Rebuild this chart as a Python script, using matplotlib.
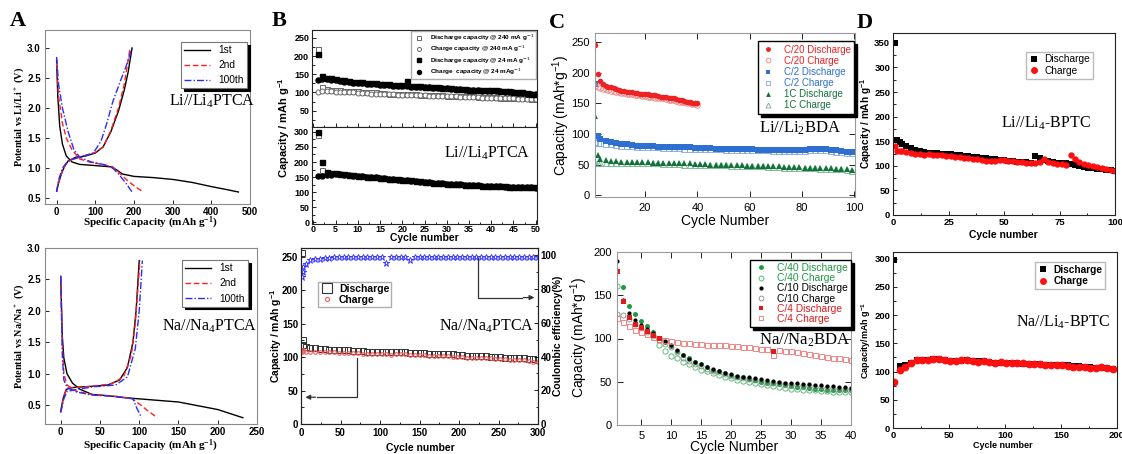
import matplotlib
matplotlib.use("Agg")
import matplotlib.pyplot as plt
import numpy as np
from matplotlib.lines import Line2D
from matplotlib.ticker import MultipleLocator

SANS = "Liberation Sans"
SERIF = "Liberation Serif"
plt.rcParams["font.family"] = [SANS, "DejaVu Sans"]

# ---- A: galvanostatic profiles (capacity mAh/g, potential V) ----
li_d1_x = [0, 3, 8, 15, 25, 40, 60, 100, 140, 155, 170, 200, 250, 300, 350, 400, 440, 470]
li_d1_y = [2.8, 2.2, 1.7, 1.4, 1.2, 1.1, 1.06, 1.04, 1.02, 0.97, 0.9, 0.86, 0.84, 0.81, 0.76, 0.69, 0.64, 0.6]
li_d2_x = [0, 5, 15, 25, 40, 60, 90, 120, 145, 165, 185, 205, 222]
li_d2_y = [2.75, 2.2, 1.75, 1.5, 1.3, 1.15, 1.09, 1.06, 1.02, 0.9, 0.78, 0.68, 0.61]
li_d100_x = [0, 5, 15, 30, 45, 60, 90, 120, 145, 160, 180, 195]
li_d100_y = [2.85, 2.4, 2.0, 1.6, 1.3, 1.18, 1.1, 1.06, 1.0, 0.9, 0.74, 0.6]
li_c1_x = [0, 5, 12, 20, 30, 50, 75, 100, 120, 140, 160, 175, 185, 195]
li_c1_y = [0.62, 0.75, 0.9, 1.02, 1.12, 1.18, 1.2, 1.25, 1.35, 1.6, 1.95, 2.3, 2.6, 3.0]
li_c2_x = [0, 5, 15, 25, 40, 70, 100, 120, 140, 160, 175, 190]
li_c2_y = [0.6, 0.75, 0.95, 1.08, 1.15, 1.2, 1.26, 1.35, 1.62, 2.0, 2.4, 3.0]
li_c100_x = [0, 5, 15, 30, 60, 95, 115, 130, 145, 165, 180, 195]
li_c100_y = [0.6, 0.8, 1.0, 1.12, 1.18, 1.25, 1.45, 1.75, 2.1, 2.45, 2.7, 3.0]

na_d1_x = [0, 2, 4, 8, 15, 25, 40, 60, 80, 100, 150, 200, 232]
na_d1_y = [2.55, 1.6, 1.25, 1.0, 0.85, 0.75, 0.67, 0.65, 0.62, 0.6, 0.55, 0.43, 0.3]
na_d2_x = [0, 2, 4, 8, 20, 40, 70, 90, 100, 110, 123]
na_d2_y = [2.55, 1.5, 1.0, 0.82, 0.72, 0.67, 0.64, 0.61, 0.52, 0.42, 0.3]
na_d100_x = [0, 2, 4, 8, 20, 40, 70, 92, 97, 103]
na_d100_y = [2.55, 1.3, 0.9, 0.78, 0.71, 0.66, 0.64, 0.6, 0.45, 0.3]
na_c1_x = [0, 3, 7, 15, 40, 60, 75, 85, 92, 96, 100]
na_c1_y = [0.4, 0.6, 0.75, 0.78, 0.8, 0.82, 0.9, 1.1, 1.5, 2.0, 2.8]
na_c2_x = [0, 4, 8, 40, 65, 80, 90, 95, 101]
na_c2_y = [0.4, 0.65, 0.77, 0.8, 0.84, 0.95, 1.3, 1.8, 2.8]
na_c100_x = [0, 4, 8, 40, 70, 85, 95, 100, 104]
na_c100_y = [0.38, 0.6, 0.72, 0.79, 0.82, 0.95, 1.4, 2.0, 2.8]

# ---- B top: Li//Li4PTCA cycling, cycles 1-50 ----
b_cyc = np.arange(1, 51)
b_dis240 = [220, 115, 110, 108, 107, 106, 105, 104, 103, 103, 102, 101, 100, 100, 99, 98, 97, 97, 96, 96,
            95, 95, 95, 94, 94, 93, 93, 92, 92, 91, 91, 91, 90, 90, 89, 89, 88, 88, 88, 87,
            87, 86, 86, 85, 85, 85, 84, 84, 83, 83]
b_chg240 = [100, 103, 104, 103, 102, 101, 101, 100, 100, 99, 98, 98, 97, 97, 96, 96, 95, 95, 94, 94,
            93, 93, 93, 92, 92, 91, 91, 90, 90, 90, 89, 89, 88, 88, 88, 87, 87, 86, 86, 86,
            85, 85, 84, 84, 84, 83, 83, 82, 82, 82]
b_dis24 = [205, 145, 141, 139, 137, 135, 133, 131, 130, 129, 128, 127, 126, 125, 124, 123, 122, 121, 121, 120,
           132, 119, 118, 117, 116, 115, 114, 114, 113, 112, 111, 110, 110, 109, 108, 107, 107, 106, 106, 108,
           107, 105, 104, 103, 102, 101, 100, 98, 97, 95]
b_chg24 = [133, 138, 137, 135, 133, 131, 129, 128, 127, 126, 125, 124, 123, 122, 121, 120, 120, 119, 118, 118,
           117, 116, 116, 115, 114, 114, 113, 112, 112, 111, 110, 109, 109, 108, 107, 107, 106, 105, 105, 104,
           104, 103, 102, 101, 100, 99, 98, 97, 96, 95]
b_lo_dis = [298, 200, 168, 165, 163, 161, 160, 158, 157, 155, 154, 152, 151, 149, 148, 147, 145, 144, 143, 141,
            140, 139, 137, 136, 134, 133, 132, 131, 130, 129, 128, 127, 126, 125, 124, 124, 123, 122, 122, 121,
            121, 120, 120, 119, 119, 118, 118, 117, 117, 116]
b_lo_open_cyc = [1, 2]
b_lo_open = [288, 174]
b_lo_chg = [155, 155, 156, 158, 160, 159, 158, 157, 155, 154, 153, 151, 150, 149, 147, 146, 145, 143, 142, 141,
            139, 138, 137, 135, 134, 133, 132, 131, 130, 129, 128, 127, 126, 125, 124, 123, 123, 122, 121, 121,
            120, 120, 119, 119, 118, 118, 117, 117, 116, 115]

# ---- B bottom: Na//Na4PTCA, 300 cycles ----
bn_cyc = np.r_[1, 2, 3, np.arange(6, 301, 6)]
bn_dis = [256, 125, 118,
          115, 114, 113, 112, 112, 111, 111, 110, 110, 110,
          109, 109, 109, 108, 108, 108, 108, 108, 107, 107,
          107, 107, 106, 106, 106, 106, 105, 105, 105, 104,
          104, 104, 103, 103, 102, 102, 102, 101, 101, 100,
          100, 100, 99, 99, 98, 98, 98, 97, 97, 96]
bn_chg = [108, 110, 109,
          108, 108, 108, 107, 107, 107, 107, 106, 106, 106,
          106, 106, 105, 105, 105, 105, 105, 104, 103, 104,
          104, 104, 103, 103, 103, 103, 102, 102, 101, 101,
          101, 100, 100, 100, 99, 99, 99, 98, 98, 98,
          97, 97, 97, 96, 96, 95, 95, 94, 93, 92]
bn_ce = [87, 90, 93,
         95, 97, 98, 98, 98.5, 98.5, 99, 99, 99, 99,
         99, 99, 99, 99, 99, 99, 99, 95.4, 99, 99,
         99, 99, 97.4, 99, 99, 99, 99, 99, 99, 99,
         99, 99, 99, 99, 99, 99, 99, 99, 99, 99,
         99, 99, 99, 99, 99, 99, 99, 99, 99, 99]

# ---- C top: Li//Li2BDA ----
c20_cyc = np.arange(1, 41)
c20_dis = [245, 198, 186, 181, 179, 177, 176, 175, 174, 172, 171, 170, 169, 169, 168, 167, 167, 166, 166, 165,
           165, 164, 163, 163, 162, 161, 161, 160, 159, 158, 158, 157, 156, 155, 154, 153, 152, 151, 151, 150]
c20_chg = [178, 176, 175, 174, 173, 172, 171, 170, 169, 168, 167, 167, 166, 165, 165, 164, 163, 163, 162, 162,
           161, 161, 160, 159, 159, 158, 158, 157, 156, 156, 155, 154, 153, 152, 152, 151, 150, 149, 149, 148]
c2_cyc = np.r_[1, 2, np.arange(3, 100, 2)]
c2_dis = [181, 96, 92, 89, 87, 85, 84, 83, 82, 81, 81, 80, 80, 79, 79, 79, 79, 78, 78, 78,
          77, 77, 77, 77, 76, 76, 76, 76, 75, 75, 75, 75, 74, 74, 74, 74, 74, 74, 73, 73,
          73, 74, 75, 76, 76, 75, 74, 73, 72, 71, 70]
c2_chg = [87, 86, 85, 84, 83, 82, 81, 80, 80, 79, 79, 78, 78, 78, 77, 77, 77, 77, 76, 76,
          76, 76, 75, 75, 75, 75, 74, 74, 74, 74, 73, 73, 73, 73, 73, 72, 72, 72, 72, 72,
          72, 72, 73, 74, 74, 73, 72, 71, 70, 69, 69]
c1_dis = [130, 65, 59, 57, 56, 56, 55, 55, 55, 54, 54, 54, 53, 53, 53, 53, 52, 52, 52, 52,
          51, 51, 51, 50, 50, 50, 50, 49, 49, 49, 48, 48, 48, 48, 47, 47, 47, 46, 46, 46,
          46, 45, 45, 45, 44, 44, 44, 43, 43, 42, 41]
c1_chg = [52, 53, 53, 53, 53, 53, 53, 53, 53, 52, 52, 52, 52, 52, 51, 51, 51, 51, 50, 50,
          50, 50, 50, 49, 49, 49, 49, 48, 48, 48, 47, 47, 47, 47, 46, 46, 46, 45, 45, 45,
          45, 44, 44, 44, 43, 43, 43, 42, 42, 41, 40]

# ---- C bottom: Na//Na2BDA ----
cn_cyc = np.arange(1, 41)
c40_dis_cyc = np.arange(2, 41)
c40_dis = [159, 138, 128, 120, 115, 108, 101, 96, 91, 86, 81, 77, 73, 70, 67, 64, 62, 60, 58, 56,
           55, 53, 52, 50, 49, 48, 47, 46, 45, 44, 44, 43, 42, 42, 41, 41, 40, 40, 40]
c40_chg_cyc = np.r_[1, np.arange(8, 41)]
c40_chg = [161, 93, 86, 80, 77, 73, 70, 67, 64, 62, 60, 58, 56, 54, 52, 51, 50, 48, 47, 46,
           45, 44, 43, 42, 42, 41, 40, 40, 39, 39, 38, 38, 38, 38]
c10_dis = [190, 145, 130, 121, 116, 111, 106, 101, 97, 93, 87, 81, 76, 73, 70, 67, 65, 62, 60, 59,
           57, 56, 55, 54, 53, 52, 51, 50, 49, 48, 48, 47, 47, 46, 46, 45, 45, 44, 44, 43]
c10_chg = [128, 127, 123, 117, 112, 107, 103, 98, 94, 90, 84, 78, 74, 71, 68, 65, 63, 61, 59, 57,
           55, 54, 53, 52, 51, 50, 49, 48, 47, 46, 46, 45, 45, 44, 44, 43, 43, 42, 42, 42]
c4_dis = [178, 143, 125, 117, 113, 109, 104, 101, 99, 98, 97, 96, 96, 95, 95, 94, 94, 93, 93, 92,
          91, 91, 90, 89, 89, 88, 85, 87, 86, 85, 84, 83, 82, 81, 80, 79, 78, 77, 76, 75]
c4_chg = [124, 119, 115, 110, 107, 105, 102, 100, 98, 97, 96, 95, 95, 94, 94, 93, 93, 92, 92, 91,
          91, 90, 90, 89, 88, 88, 81, 87, 86, 85, 84, 83, 82, 81, 80, 79, 78, 77, 76, 75]

# ---- D top: Li//Li4-BPTC ----
d_cyc = np.r_[1, 2, 3, np.arange(4, 101, 2)]
d_dis = [350, 152, 148, 145, 140, 137, 132, 130, 128, 127, 127, 126, 125, 124, 123, 122, 121, 120, 119, 118,
         117, 116, 115, 114, 113, 112, 111, 110, 109, 108, 108, 107, 106, 120, 115, 112, 110, 108, 106, 105,
         106, 103, 101, 99, 97, 96, 95, 94, 93, 92, 91, 90]
d_chg = [140, 131, 130, 130, 129, 127, 125, 123, 122, 123, 122, 122, 121, 120, 119, 118, 117, 116, 115, 114,
         113, 112, 110, 109, 109, 111, 111, 110, 109, 108, 107, 106, 105, 106, 108, 113, 108, 106, 104, 103,
         101, 122, 113, 108, 104, 101, 99, 97, 95, 93, 91, 90]

# ---- D bottom: Na//Li4-BPTC ----
dn_cyc = np.r_[1, np.arange(6, 200, 5)]
dn_dis = [298, 110, 112, 116, 120, 120, 120, 122, 122, 120, 119, 119, 119, 120, 119, 118, 118, 117, 116, 116,
          115, 115, 115, 114, 114, 113, 113, 112, 112, 112, 111, 111, 110, 110, 109, 108, 107, 107, 107, 105]
dn_chg = [82, 103, 108, 115, 120, 120, 120, 122, 122, 120, 118, 118, 120, 121, 118, 117, 119, 117, 116, 117,
          116, 115, 115, 115, 114, 113, 113, 112, 111, 111, 111, 110, 109, 109, 108, 107, 106, 108, 106, 104]

W, H = 1122, 454
fig = plt.figure(figsize=(W / 100, H / 100), dpi=100)


def axes_px(l, t, r, b):
    return fig.add_axes([l / W, 1 - b / H, (r - l) / W, (b - t) / H])


def ftext(x, y, s, **kw):
    fig.text(x / W, 1 - y / H, s, **kw)


def frame(ax, color, lw=0.8):
    for sp in ax.spines.values():
        sp.set_color(color)
        sp.set_linewidth(lw)


def tick_font(ax, size, weight="bold"):
    for lab in ax.get_xticklabels() + ax.get_yticklabels():
        lab.set_fontsize(size)
        lab.set_fontweight(weight)
        lab.set_fontfamily(SANS)


CAP = "mAh g$\\mathregular{^{-1}}$"
SHADOW = {"color": "black", "alpha": 1.0}


def panel_a():
    curves = [
        ("1st", "black", "-", li_d1_x, li_d1_y, li_c1_x, li_c1_y, na_d1_x, na_d1_y, na_c1_x, na_c1_y),
        ("2nd", "#ff2020", (0, (4, 2)), li_d2_x, li_d2_y, li_c2_x, li_c2_y, na_d2_x, na_d2_y, na_c2_x, na_c2_y),
        ("100th", "#2b2bff", (0, (5, 1.5, 1, 1.5)), li_d100_x, li_d100_y, li_c100_x, li_c100_y,
         na_d100_x, na_d100_y, na_c100_x, na_c100_y),
    ]
    top = axes_px(45, 30, 250, 204)
    bot = axes_px(45, 248, 257, 424)
    handles = []
    for lab, col, ls, dx, dy, cx, cy, ndx, ndy, ncx, ncy in curves:
        top.plot(dx, dy, color=col, ls=ls, lw=1.0)
        top.plot(cx, cy, color=col, ls=ls, lw=1.0)
        bot.plot(ndx, ndy, color=col, ls=ls, lw=1.0)
        bot.plot(ncx, ncy, color=col, ls=ls, lw=1.0)
        handles.append(Line2D([], [], color=col, ls=ls, lw=1.0))
    labels = [c[0] for c in curves]

    top.set_xlim(-30, 480)
    top.set_ylim(0.4, 3.3)
    top.set_xticks([0, 100, 200, 300, 400, 500])
    top.set_yticks([0.5, 1.0, 1.5, 2.0, 2.5, 3.0])
    bot.set_xlim(-20, 248)
    bot.set_ylim(0.2, 3.0)
    bot.set_xticks([0, 50, 100, 150, 200, 250])
    bot.set_yticks([0.5, 1.0, 1.5, 2.0, 2.5, 3.0])
    for ax in (top, bot):
        frame(ax, "#8a8a8a")
        ax.tick_params(direction="in", length=3, width=0.6, pad=3)
        ax.tick_params(axis="x", pad=2)
        ax.xaxis.set_major_formatter(matplotlib.ticker.FormatStrFormatter("%d"))
        ax.yaxis.set_major_formatter(matplotlib.ticker.FormatStrFormatter("%.1f"))
        tick_font(ax, 7)
    for ax, anchor in ((top, (0.985, 0.93)), (bot, (0.958, 0.93))):
        leg = ax.legend(handles, labels, loc="upper right", bbox_to_anchor=anchor, borderaxespad=0,
                        fontsize=7.3, handlelength=2.6, labelspacing=0.5, borderpad=0.3,
                        fancybox=False, shadow=SHADOW)
        leg.get_frame().set_edgecolor("#777777")
        leg.get_frame().set_linewidth(0.8)
    ftext(212, 101, "Li//Li$\\mathregular{_4}$PTCA", family=SERIF, fontsize=11.5, ha="center", va="center")
    ftext(210, 326, "Na//Na$\\mathregular{_4}$PTCA", family=SERIF, fontsize=11.5, ha="center", va="center")
    ftext(150, 223, "Specific Capacity (" + CAP + ")", family=SERIF, fontsize=8, weight="bold",
          ha="center", va="center")
    ftext(150, 446, "Specific Capacity (" + CAP + ")", family=SERIF, fontsize=8, weight="bold",
          ha="center", va="center")
    ftext(19, 117, "Potential vs Li/Li$\\mathregular{^+}$ (V)", family=SERIF, fontsize=7.3, weight="bold",
          rotation=90, ha="center", va="center")
    ftext(19, 336, "Potential vs Na/Na$\\mathregular{^+}$ (V)", family=SERIF, fontsize=7.3, weight="bold",
          rotation=90, ha="center", va="center")


def panel_b():
    up = axes_px(312, 30, 537, 127)
    lo = axes_px(312, 127, 537, 224)
    ms = 3.6
    up.plot(b_cyc, b_dis240, "s", ms=ms, mfc="white", mec="#666666", mew=0.7, label="Discharge capacity @ 240 mA g$^{-1}$")
    up.plot(b_cyc, b_chg240, "o", ms=ms, mfc="white", mec="#666666", mew=0.7, label="Charge capacity @ 240 mA g$^{-1}$")
    up.plot(b_cyc, b_dis24, "s", ms=ms, color="black", label="Discharge capacity @ 24 mA g$^{-1}$")
    up.plot(b_cyc, b_chg24, "o", ms=ms, color="black", label="Charge  capacity @ 24 mAg$^{-1}$")
    lo.plot(b_lo_open_cyc, b_lo_open, "s", ms=ms, mfc="white", mec="#666666", mew=0.7)
    lo.plot(b_cyc, b_lo_chg, "o", ms=ms, color="black")
    lo.plot(b_cyc, b_lo_dis, "s", ms=ms, color="black")
    leg = up.legend(loc="upper right", bbox_to_anchor=(1.0, 1.0), borderaxespad=0.15,
                    prop={"family": SANS, "size": 4.6, "weight": "bold"}, fancybox=False,
                    handletextpad=0.6, labelspacing=0.15, borderpad=0.3, markerscale=0.8)
    leg.get_frame().set_edgecolor("#999999")
    for ax in (up, lo):
        ax.set_xlim(-0.3, 50.3)
        frame(ax, "#222222")
        ax.xaxis.set_major_locator(MultipleLocator(5))
        ax.xaxis.set_minor_locator(MultipleLocator(2.5))
        ax.yaxis.set_minor_locator(MultipleLocator(25))
        ax.tick_params(which="both", direction="in", width=0.6, top=False, right=False)
        ax.tick_params(which="major", length=3, pad=2)
        ax.tick_params(which="minor", length=1.8)
    up.set_ylim(5, 272)
    up.set_yticks([50, 100, 150, 200, 250])
    up.tick_params(labelbottom=False)
    lo.set_ylim(-5, 316)
    lo.set_yticks([0, 50, 100, 150, 200, 250, 300])
    lo.tick_params(axis="x", pad=1)
    tick_font(up, 6.5)
    tick_font(lo, 6.5)
    ftext(487, 153, "Li//Li$\\mathregular{_4}$PTCA", family=SERIF, fontsize=11.5, ha="center", va="center")
    ftext(424, 238, "Cycle number", fontsize=7.5, weight="bold", ha="center", va="center")
    ftext(284, 128, "Capacity / " + CAP, fontsize=8, weight="bold", rotation=90, ha="center", va="center")

    # sodium cell with coulombic efficiency on the right axis
    ax = axes_px(301, 248, 538, 424)
    ce = ax.twinx()
    ax.plot(bn_cyc, bn_dis, "s", ms=4.2, mfc="none", mec="#333333", mew=0.7)
    ax.plot(bn_cyc, bn_chg, "o", ms=2.6, mfc="none", mec="#ff5a5a", mew=0.8)
    ce.plot(bn_cyc, bn_ce, "*", ms=5, mfc="none", mec="#3b3bff", mew=0.7)
    ax.set_xlim(0, 300)
    ax.set_ylim(0, 263)
    ce.set_ylim(0, 104.4)
    ax.set_xticks(np.arange(0, 301, 50))
    ax.set_yticks(np.arange(0, 251, 50))
    ce.set_yticks(np.arange(0, 101, 20))
    ax.xaxis.set_minor_locator(MultipleLocator(25))
    ax.yaxis.set_minor_locator(MultipleLocator(25))
    ce.yaxis.set_minor_locator(MultipleLocator(10))
    for a in (ax, ce):
        frame(a, "#222222")
        a.tick_params(which="both", direction="in", width=0.6)
        a.tick_params(which="major", length=3, pad=2)
        a.tick_params(which="minor", length=1.8)
        tick_font(a, 7)
    ax.tick_params(axis="x", pad=3)
    # arrows pointing each series to its axis
    ax.plot([71, 71, 20], [99, 40, 40], color="#333333", lw=0.9)
    ax.annotate("", xy=(2, 40), xytext=(22, 40),
                arrowprops=dict(arrowstyle="-|>", color="#333333", lw=0.9, mutation_scale=7))
    ce.plot([224, 224, 280], [98.4, 75, 75], color="#333333", lw=0.9)
    ce.annotate("", xy=(299, 75), xytext=(278, 75),
                arrowprops=dict(arrowstyle="-|>", color="#333333", lw=0.9, mutation_scale=7))
    h = [Line2D([], [], ls="", marker="s", ms=6.5, mfc="none", mec="#333333", mew=0.8),
         Line2D([], [], ls="", marker="o", ms=3, mfc="none", mec="#ff5a5a", mew=0.8)]
    leg = ax.legend(h, ["Discharge", "Charge"], loc="upper left", bbox_to_anchor=(0.072, 0.807),
                    borderaxespad=0, prop={"family": SANS, "size": 7.5, "weight": "bold"},
                    fancybox=False, handletextpad=0.4, labelspacing=0.05, borderpad=0.2,
                    handlelength=1.4)
    leg.get_frame().set_edgecolor("#999999")
    ftext(487, 326, "Na//Na$\\mathregular{_4}$PTCA", family=SERIF, fontsize=11.5, ha="center", va="center")
    ftext(420, 448, "Cycle number", fontsize=7.5, weight="bold", ha="center", va="center")
    ftext(276, 336, "Capacity / " + CAP, fontsize=7.5, weight="bold", rotation=90, ha="center", va="center")
    ftext(558, 336, "Coulombic efficiency(%)", fontsize=7.5, weight="bold", rotation=90,
          ha="center", va="center")


def panel_c():
    red, blue, green = "#ee2222", "#2f6fd0", "#13723a"
    top = axes_px(595, 33, 855, 197)
    ms = 4.0
    top.plot(c2_cyc, c2_chg, "s", ms=ms, mfc="none", mec="#7fa6e6", mew=0.6)
    top.plot(c2_cyc, c2_dis, "s", ms=ms, color=blue, mew=0)
    top.plot(c2_cyc, c1_chg, "^", ms=ms, mfc="none", mec="#6cb38a", mew=0.6)
    top.plot(c2_cyc, c1_dis, "^", ms=ms, color=green, mew=0)
    top.plot(c20_cyc, c20_chg, "o", ms=ms, mfc="none", mec="#f08080", mew=0.6)
    top.plot(c20_cyc, c20_dis, "o", ms=ms, color=red, mew=0)
    h = [Line2D([], [], ls="", marker="o", ms=3.5, color=red, mew=0),
         Line2D([], [], ls="", marker="o", ms=3.5, mfc="none", mec="#f08080", mew=0.6),
         Line2D([], [], ls="", marker="s", ms=3.5, color=blue, mew=0),
         Line2D([], [], ls="", marker="s", ms=3.5, mfc="none", mec="#7fa6e6", mew=0.6),
         Line2D([], [], ls="", marker="^", ms=3.5, color=green, mew=0),
         Line2D([], [], ls="", marker="^", ms=3.5, mfc="none", mec="#6cb38a", mew=0.6)]
    labs = ["C/20 Discharge", "C/20 Charge", "C/2 Discharge", "C/2 Charge", "1C Discharge", "1C Charge"]
    cols = [red, red, blue, blue, green, green]
    leg = top.legend(h, labs, loc="upper right", bbox_to_anchor=(0.996, 0.95), borderaxespad=0,
                     fontsize=7.0, fancybox=False, shadow=SHADOW,
                     handletextpad=0.8, labelspacing=0.12, borderpad=0.35, handlelength=1.5)
    leg.get_frame().set_edgecolor("black")
    for t, c in zip(leg.get_texts(), cols):
        t.set_color(c)
    top.set_xlim(0.9, 100.2)
    top.set_ylim(-3, 265)
    top.set_xticks([20, 40, 60, 80, 100])
    top.set_yticks(np.arange(0, 251, 50))

    bot = axes_px(617, 252, 851, 425)
    g_lt = "#4caf6a"
    bot.plot(c40_chg_cyc, c40_chg, "o", ms=3.8, mfc="none", mec=g_lt, mew=0.6)
    bot.plot(c40_dis_cyc, c40_dis, "o", ms=3.6, color="#1e9a44", mew=0)
    bot.plot(cn_cyc, c10_chg, "o", ms=3.6, mfc="none", mec="#888888", mew=0.6)
    bot.plot(cn_cyc, c10_dis, "o", ms=3.0, color="black", mew=0)
    bot.plot(cn_cyc, c4_chg, "s", ms=3.6, mfc="none", mec="#f07070", mew=0.6)
    bot.plot(cn_cyc[:8], c4_dis[:8], "s", ms=3.6, color="#dd1c1c", mew=0)
    bot.plot(cn_cyc[26:27], c4_dis[26:27], "s", ms=3.6, color="#dd1c1c", mew=0)
    h = [Line2D([], [], ls="", marker="o", ms=3.5, color="#1e9a44", mew=0),
         Line2D([], [], ls="", marker="o", ms=3.5, mfc="none", mec=g_lt, mew=0.6),
         Line2D([], [], ls="", marker="o", ms=3.0, color="black", mew=0),
         Line2D([], [], ls="", marker="o", ms=3.5, mfc="none", mec="#888888", mew=0.6),
         Line2D([], [], ls="", marker="s", ms=3.5, color="#dd1c1c", mew=0),
         Line2D([], [], ls="", marker="s", ms=3.5, mfc="none", mec="#f07070", mew=0.6)]
    labs = ["C/40 Discharge", "C/40 Charge", "C/10 Discharge", "C/10 Charge", "C/4 Discharge", "C/4 Charge"]
    cols = ["#1e9a44", "#1e9a44", "black", "black", "#dd1c1c", "#dd1c1c"]
    leg = bot.legend(h, labs, loc="upper right", bbox_to_anchor=(1.0, 0.954), borderaxespad=0,
                     fontsize=7.4, fancybox=False, shadow=SHADOW,
                     handletextpad=0.8, labelspacing=0.02, borderpad=0.3, handlelength=1.5)
    leg.get_frame().set_edgecolor("black")
    for t, c in zip(leg.get_texts(), cols):
        t.set_color(c)
    bot.set_xlim(0.95, 40.05)
    bot.set_ylim(0, 200)
    bot.set_xticks(np.arange(5, 41, 5))
    bot.set_yticks(np.arange(0, 201, 50))

    for ax in (top, bot):
        frame(ax, "#9a9a9a")
        ax.tick_params(direction="in", length=4, width=0.6, top=True, right=True, pad=4)
        tick_font(ax, 8, "normal")
    ftext(800, 128, "Li//Li$\\mathregular{_2}$BDA", family=SERIF, fontsize=12, ha="center", va="center")
    ftext(805, 340, "Na//Na$\\mathregular{_2}$BDA", family=SERIF, fontsize=12, ha="center", va="center")
    ftext(725, 221, "Cycle Number", fontsize=10, ha="center", va="center")
    ftext(734, 447, "Cycle Number", fontsize=10, ha="center", va="center")
    ftext(561, 115, "Capacity (mAh*g$\\mathregular{^{-1}}$)", fontsize=10, rotation=90,
          ha="center", va="center")
    ftext(579, 337, "Capacity (mAh*g$\\mathregular{^{-1}}$)", fontsize=10, rotation=90,
          ha="center", va="center")


def panel_d():
    top = axes_px(893, 33, 1115, 215)
    top.plot(d_cyc, d_dis, "s", ms=4.2, color="black", mew=0)
    top.plot(d_cyc, d_chg, "o", ms=4.6, color="#ff1010", mew=0)
    top.set_xlim(0, 100)
    top.set_ylim(0, 370)
    top.set_xticks([0, 25, 50, 75, 100])
    top.set_yticks(np.arange(0, 351, 50))
    top.xaxis.set_minor_locator(MultipleLocator(12.5))
    top.yaxis.set_minor_locator(MultipleLocator(25))

    bot = axes_px(893, 252, 1117, 428)
    bot.plot(dn_cyc, dn_dis, "s", ms=5, color="black", mew=0)
    bot.plot(dn_cyc, dn_chg, "o", ms=5.6, color="#ff1010", mew=0)
    bot.set_xlim(0, 200)
    bot.set_ylim(0, 312)
    bot.set_xticks(np.arange(0, 201, 50))
    bot.set_yticks(np.arange(0, 301, 50))
    bot.xaxis.set_minor_locator(MultipleLocator(25))
    bot.yaxis.set_minor_locator(MultipleLocator(25))

    for ax, anchor in ((top, (0.90, 0.896)), (bot, (0.946, 0.943))):
        frame(ax, "#222222")
        ax.tick_params(which="both", direction="in", width=0.6)
        ax.tick_params(which="major", length=3, pad=2)
        ax.tick_params(which="minor", length=1.8)
        tick_font(ax, 6.8)
        h = [Line2D([], [], ls="", marker="s", ms=4, color="black", mew=0),
             Line2D([], [], ls="", marker="o", ms=5, color="#ff1010", mew=0)]
        weight = "normal" if ax is top else "bold"
        leg = ax.legend(h, ["Discharge", "Charge"], loc="upper right", bbox_to_anchor=anchor,
                        borderaxespad=0, prop={"family": SANS, "size": 7.3, "weight": weight},
                        fancybox=False, handletextpad=0.4, labelspacing=0.15, borderpad=0.25,
                        handlelength=1.2)
        leg.get_frame().set_edgecolor("#aaaaaa")
    ftext(1046, 123, "Li//Li$\\mathregular{_4}$-BPTC", family=SERIF, fontsize=11.5, ha="center", va="center")
    ftext(1063, 322, "Na//Li$\\mathregular{_4}$-BPTC", family=SERIF, fontsize=11.5, ha="center", va="center")
    ftext(1003, 235, "Cycle number", fontsize=7.5, weight="bold", ha="center", va="center")
    ftext(1003, 446, "Cycle number", fontsize=6.5, weight="bold", ha="center", va="center")
    ftext(866, 123, "Capacity / " + CAP, fontsize=7.2, weight="bold", rotation=90, ha="center", va="center")
    ftext(866, 340, "Capacity/mAh g$\\mathregular{^{-1}}$", fontsize=6.5, weight="bold", rotation=90,
          ha="center", va="center")


panel_a()
panel_b()
panel_c()
panel_d()
for letter, x, y in (("A", 18, 21), ("B", 279, 21), ("C", 557, 23), ("D", 865, 23)):
    ftext(x, y, letter, family=SERIF, fontsize=16, weight="bold", ha="center", va="center")

fig.savefig("out.png", dpi=100)
